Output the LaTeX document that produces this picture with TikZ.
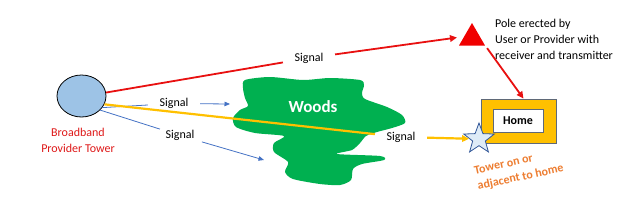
\documentclass[tikz,border=0pt]{standalone}
\usepackage{fontspec}
\setmainfont{Carlito}
\usetikzlibrary{shapes.geometric,arrows.meta}
\definecolor{towerblue}{HTML}{9DC3E6}
\definecolor{towerred}{RGB}{222,24,24}
\definecolor{linered}{RGB}{232,16,16}
\definecolor{polered}{RGB}{240,0,0}
\definecolor{goldline}{HTML}{FFC000}
\definecolor{sigblue}{HTML}{4472C4}
\definecolor{woodsgreen}{HTML}{00B050}
\definecolor{starfill}{HTML}{DEEBF7}
\definecolor{staredge}{HTML}{2F5597}
\definecolor{homeedge}{RGB}{95,105,120}
\definecolor{towerorange}{HTML}{ED7D31}
\tikzset{
  txt/.style={font=\fontsize{12}{16}\selectfont},
  txtb/.style={font=\fontsize{12}{16}\selectfont\bfseries},
  siglabel/.style={txt, inner xsep=11.5pt, inner ysep=1pt},
  redline/.style={draw=linered, line width=1.8pt},
  yellowline/.style={draw=goldline, line width=2.2pt},
  blueline/.style={draw=sigblue, line width=0.8pt},
  redtip/.style={-{Triangle[length=7pt,width=6.5pt]}},
  bluetip/.style={-{Triangle[length=5.5pt,width=4.5pt]}},
}
\begin{document}
\begin{tikzpicture}[x=1pt,y=-1pt]
\useasboundingbox (0,0) rectangle (640,214);

% woods
\fill[woodsgreen] plot[smooth cycle, tension=0.45] coordinates {
 (245,80) (270,77) (303,80) (330,78) (360,80) (364,85) (362,93) (365,99)
 (387,107) (402,115) (405,123) (392,128) (377,132) (366,136) (360,143)
 (352,150) (337,154) (380,156) (384,160) (362,164) (353,169) (351,180)
 (340,185) (320,184) (293,179) (285,172) (288,162) (274,152) (274,143)
 (284,136) (255,133) (236,127) (233,118) (240,110) (248,106) (245,98) (243,88)};
\node[txtb, text=white, font=\fontsize{17}{20}\selectfont\bfseries] (woodslabel) at (313,107) {Woods};

% tower
\node[ellipse, draw=black, fill=towerblue, line width=0.8pt, minimum width=49pt, minimum height=42pt, inner sep=0pt] (tower) at (81.5,96) {};
\node[txt, text=towerred, align=center] (towerlabel) at (78,140) {Broadband\\Provider Tower};

% pole
\node[regular polygon, regular polygon sides=3, fill=polered, minimum size=30pt, inner sep=0pt] (pole) at (472,38) {};
\node[txt, anchor=west, align=left, inner sep=0pt] (poletext) at (495,39) {Pole erected by\\User or Provider with\\receiver and transmitter};

% home
\node[draw=homeedge, fill=goldline, line width=0.8pt, minimum width=75pt, minimum height=44pt, inner sep=0pt] (home) at (518.5,121) {};
\node[txtb, draw=homeedge, fill=white, line width=0.6pt, minimum width=50pt, minimum height=23pt, inner sep=0pt] (homelabel) at (518,120.5) {Home};

% star
\node[star, star points=5, star point ratio=2.4, minimum size=32pt, inner sep=0pt, fill=starfill, draw=staredge, line width=0.8pt] (star) at (479,139) {};
\node[txtb, text=towerorange, rotate=12, align=left] (starlabel) at (519,170) {Tower on or\\adjacent to home};

% signal labels
\node[siglabel] (sig1) at (309,58) {Signal};
\node[siglabel] (sig2) at (174,103.5) {Signal};
\node[siglabel] (sig3) at (180,135.5) {Signal};
\node[siglabel] (sig4) at (401,137) {Signal};
\coordinate (b1end) at (230,104);
\coordinate (b2end) at (264,160);

% connectors
\draw[redline] (tower.8) -- (sig1);
\draw[redline, redtip, shorten >=7pt] (sig1) -- (pole.170);
\draw[redline, redtip, shorten <=3pt] (pole.corner 3) -- ([xshift=5pt]home.north);

\draw[blueline] (tower.-29) -- (sig2);
\draw[blueline, bluetip] (sig2) -- (b1end);
\draw[blueline] (tower.-37) -- (sig3);
\draw[blueline, bluetip] (sig3) -- (b2end);

\draw[yellowline] (tower.-20) -- (sig4);
\draw[yellowline, redtip] (sig4) -- (star);
\end{tikzpicture}
\end{document}
